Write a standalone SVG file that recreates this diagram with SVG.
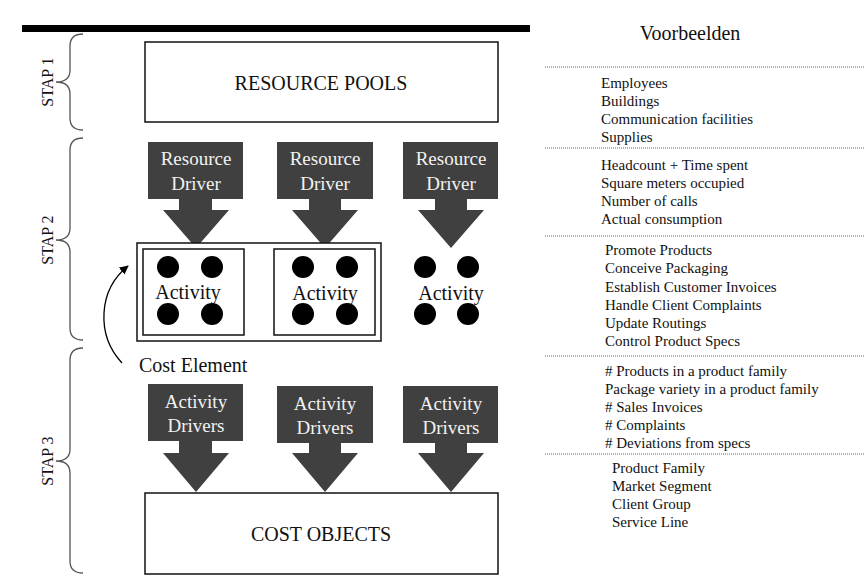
<svg xmlns="http://www.w3.org/2000/svg" width="865" height="585" viewBox="0 0 865 585">
<defs>
<style>
.t{font-family:"Liberation Serif","Times New Roman",serif;fill:#111}
.big{font-size:20px}
.w{font-family:"Liberation Serif","Times New Roman",serif;font-size:19px;fill:#f2f2f2;text-anchor:middle}
.lst{font-family:"Liberation Serif","Times New Roman",serif;font-size:15px;fill:#111}
.box{fill:#fff;stroke:#111;stroke-width:1.5}
.arr{fill:#404040}
.brace{fill:none;stroke:#555;stroke-width:1.3}
.dot{fill:#000}
.dash{stroke:#666;stroke-width:1;stroke-dasharray:1 1}
</style>
<marker id="ah" viewBox="0 0 10 10" refX="9" refY="5" markerWidth="9" markerHeight="9" orient="auto" markerUnits="userSpaceOnUse">
<path d="M0,0 L10,5 L0,10 z" fill="#000"/>
</marker>
</defs>
<rect width="865" height="585" fill="#fff"/>
<rect x="22" y="25" width="508" height="7" fill="#000"/>

<g id="braces">
<path class="brace" d="M83,34 Q70,34 70,46 L70,70 Q70,82 56,82 Q70,82 70,94 L70,118 Q70,130 83,130"/>
<path class="brace" d="M83,138 Q70,138 70,150 L70,228 Q70,240 56,240 Q70,240 70,252 L70,328 Q70,340 83,340"/>
<path class="brace" d="M83,348 Q70,348 70,360 L70,449 Q70,461 56,461 Q70,461 70,473 L70,561 Q70,573 83,573"/>
<text class="t" font-size="16" text-anchor="middle" transform="translate(53,82) rotate(-90)">STAP 1</text>
<text class="t" font-size="16" text-anchor="middle" transform="translate(53,240) rotate(-90)">STAP 2</text>
<text class="t" font-size="16" text-anchor="middle" transform="translate(53,461) rotate(-90)">STAP 3</text>
</g>

<g id="resource-pools">
<rect class="box" x="145" y="42" width="353" height="80"/>
<text class="t big" x="321" y="90" text-anchor="middle">RESOURCE POOLS</text>
</g>

<g id="resource-driver-1">
<polygon class="arr" points="148,142 243,142 243,199 212,199 212,210 229,210 196,248 163,210 179,210 179,199 148,199"/>
<text class="w" x="196" y="165">Resource</text>
<text class="w" x="196" y="190">Driver</text>
</g>
<g id="resource-driver-2">
<polygon class="arr" points="277,142 373,142 373,199 341,199 341,210 358,210 325,248 292,210 309,210 309,199 277,199"/>
<text class="w" x="325" y="165">Resource</text>
<text class="w" x="325" y="190">Driver</text>
</g>
<g id="resource-driver-3">
<polygon class="arr" points="403,142 498,142 498,199 467,199 467,210 484,210 451,248 418,210 435,210 435,199 403,199"/>
<text class="w" x="451" y="165">Resource</text>
<text class="w" x="451" y="190">Driver</text>
</g>

<g id="cost-element">
<rect class="box" x="137" y="243" width="244" height="98" stroke-width="1.2"/>
<text class="t big" x="139" y="372">Cost Element</text>
</g>

<g id="activity-1">
<rect class="box" x="143" y="249" width="101" height="86" stroke-width="1.2"/>
<circle class="dot" cx="168" cy="267" r="11"/>
<circle class="dot" cx="212" cy="267" r="11"/>
<circle class="dot" cx="168" cy="314" r="11"/>
<circle class="dot" cx="212" cy="314" r="11"/>
<text class="t big" x="188" y="299" text-anchor="middle">Activity</text>
</g>
<g id="activity-2">
<rect class="box" x="274" y="249" width="101" height="86" stroke-width="1.2"/>
<circle class="dot" cx="303" cy="267" r="11"/>
<circle class="dot" cx="347" cy="267" r="11"/>
<circle class="dot" cx="303" cy="314" r="11"/>
<circle class="dot" cx="347" cy="314" r="11"/>
<text class="t big" x="325" y="300" text-anchor="middle">Activity</text>
</g>
<g id="activity-3">
<circle class="dot" cx="425" cy="267" r="11"/>
<circle class="dot" cx="468" cy="267" r="11"/>
<circle class="dot" cx="425" cy="314" r="11"/>
<circle class="dot" cx="468" cy="314" r="11"/>
<text class="t big" x="451" y="300" text-anchor="middle">Activity</text>
</g>

<g id="connectors">
<path d="M122,363 C96,335 98,290 128,266" fill="none" stroke="#000" stroke-width="1.3" marker-end="url(#ah)"/>
</g>

<g id="activity-drivers-1">
<polygon class="arr" points="148,384 243,384 243,441 212,441 212,453 229,453 196,492 163,453 179,453 179,441 148,441"/>
<text class="w" x="196" y="408">Activity</text>
<text class="w" x="196" y="432">Drivers</text>
</g>
<g id="activity-drivers-2">
<polygon class="arr" points="277,386 373,386 373,443 341,443 341,453 358,453 325,492 292,453 309,453 309,443 277,443"/>
<text class="w" x="325" y="410">Activity</text>
<text class="w" x="325" y="434">Drivers</text>
</g>
<g id="activity-drivers-3">
<polygon class="arr" points="403,386 498,386 498,443 467,443 467,453 484,453 451,492 418,453 435,453 435,443 403,443"/>
<text class="w" x="451" y="410">Activity</text>
<text class="w" x="451" y="434">Drivers</text>
</g>

<g id="cost-objects">
<rect class="box" x="145" y="493" width="353" height="81"/>
<text class="t big" x="321" y="541" text-anchor="middle">COST OBJECTS</text>
</g>

<g id="voorbeelden">
<text class="t big" x="690" y="40" text-anchor="middle">Voorbeelden</text>
<line class="dash" x1="545" y1="67" x2="865" y2="67"/>
<line class="dash" x1="545" y1="148" x2="865" y2="148"/>
<line class="dash" x1="545" y1="236" x2="865" y2="236"/>
<line class="dash" x1="545" y1="356" x2="865" y2="356"/>
<line class="dash" x1="545" y1="454" x2="865" y2="454"/>
<text class="lst" x="601" y="88">Employees</text>
<text class="lst" x="601" y="106">Buildings</text>
<text class="lst" x="601" y="124">Communication facilities</text>
<text class="lst" x="601" y="142">Supplies</text>
<text class="lst" x="601" y="170">Headcount + Time spent</text>
<text class="lst" x="601" y="188">Square meters occupied</text>
<text class="lst" x="601" y="206">Number of calls</text>
<text class="lst" x="601" y="224">Actual consumption</text>
<text class="lst" x="605" y="255">Promote Products</text>
<text class="lst" x="605" y="273">Conceive Packaging</text>
<text class="lst" x="605" y="292">Establish Customer Invoices</text>
<text class="lst" x="605" y="310">Handle Client Complaints</text>
<text class="lst" x="605" y="328">Update Routings</text>
<text class="lst" x="605" y="346">Control Product Specs</text>
<text class="lst" x="605" y="376"># Products in a product family</text>
<text class="lst" x="605" y="394">Package variety in a product family</text>
<text class="lst" x="605" y="412"># Sales Invoices</text>
<text class="lst" x="605" y="430"># Complaints</text>
<text class="lst" x="605" y="448"># Deviations from specs</text>
<text class="lst" x="612" y="473">Product Family</text>
<text class="lst" x="612" y="491">Market Segment</text>
<text class="lst" x="612" y="509">Client Group</text>
<text class="lst" x="612" y="527">Service Line</text>
</g>
</svg>
